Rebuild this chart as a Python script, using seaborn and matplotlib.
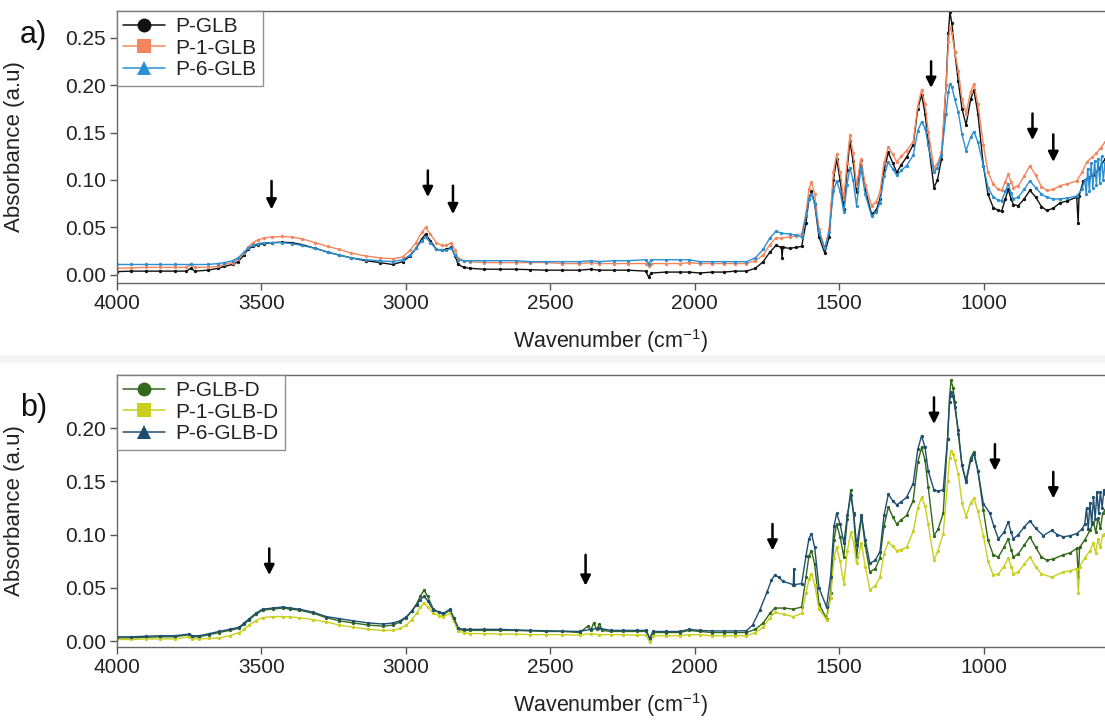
import numpy as np
import pandas as pd
import matplotlib
matplotlib.use("Agg")
import matplotlib.pyplot as plt
from matplotlib.lines import Line2D
from matplotlib.patches import Rectangle
import seaborn as sns

# ---------------- data ----------------
series_a = ["P-GLB", "P-1-GLB", "P-6-GLB"]
series_b = ["P-GLB-D", "P-1-GLB-D", "P-6-GLB-D"]
colors_a = ["#111111", "#f4855c", "#2b8fd2"]
colors_b = ["#33691a", "#c9cf1e", "#1f4f70"]
markers = ["o", "s", "^"]

# (wavenumber cm-1, absorbance)
a_black = [(4000,0.0035),(3950,0.004),(3900,0.004),(3850,0.004),(3800,0.004),(3760,0.004),(3744,0.007),(3730,0.004),(3686,0.005),(3650,0.007),(3628,0.009),(3600,0.011),(3581,0.014),(3560,0.021),(3547,0.027),(3530,0.030),(3512,0.032),(3490,0.033),(3465,0.034),(3430,0.0345),(3395,0.034),(3360,0.032),(3314,0.028),(3270,0.024),(3232,0.021),(3190,0.018),(3139,0.015),(3090,0.013),(3046,0.011),(3011,0.014),(2985,0.020),(2965,0.028),(2945,0.038),(2932,0.043),(2915,0.036),(2895,0.027),(2875,0.026),(2860,0.027),(2843,0.029),(2830,0.020),(2819,0.011),(2800,0.008),(2779,0.007),(2730,0.006),(2674,0.006),(2620,0.006),(2570,0.0055),(2515,0.005),(2460,0.005),(2400,0.005),(2360,0.006),(2330,0.005),(2280,0.005),(2230,0.005),(2170,0.004),(2160,-0.002),(2150,0.002),(2100,0.003),(2052,0.003),(2020,0.003),(1983,0.002),(1940,0.003),(1900,0.003),(1860,0.004),(1821,0.004),(1790,0.007),(1763,0.014),(1740,0.024),(1719,0.031),(1700,0.029),(1698,0.018),(1695,0.029),(1671,0.028),(1650,0.029),(1630,0.030),(1615,0.055),(1605,0.080),(1596,0.088),(1585,0.075),(1570,0.040),(1550,0.023),(1535,0.040),(1520,0.100),(1509,0.122),(1497,0.100),(1484,0.069),(1473,0.110),(1463,0.141),(1452,0.120),(1440,0.087),(1425,0.121),(1410,0.090),(1388,0.064),(1372,0.068),(1359,0.080),(1345,0.110),(1330,0.129),(1315,0.118),(1301,0.108),(1285,0.116),(1267,0.124),(1244,0.137),(1228,0.175),(1215,0.190),(1203,0.170),(1192,0.140),(1172,0.092),(1160,0.100),(1146,0.122),(1130,0.200),(1122,0.255),(1117,0.277),(1110,0.265),(1100,0.235),(1088,0.204),(1075,0.175),(1061,0.158),(1045,0.185),(1034,0.195),(1020,0.170),(1001,0.115),(985,0.085),(967,0.071),(950,0.068),(938,0.067),(925,0.080),(915,0.090),(905,0.080),(897,0.074),(880,0.073),(860,0.080),(840,0.089),(820,0.082),(800,0.072),(782,0.068),(760,0.070),(736,0.076),(710,0.078),(678,0.082),(673,0.055),(670,0.083),(655,0.099),(640,0.102),(620,0.105),(600,0.112),(580,0.122)]

a_orange = [(4000,0.007),(3950,0.0075),(3900,0.008),(3850,0.008),(3800,0.008),(3760,0.008),(3744,0.011),(3730,0.008),(3686,0.008),(3650,0.009),(3628,0.011),(3600,0.013),(3581,0.017),(3560,0.023),(3547,0.029),(3530,0.034),(3512,0.037),(3490,0.039),(3465,0.040),(3430,0.0405),(3395,0.040),(3360,0.038),(3314,0.034),(3270,0.030),(3232,0.027),(3190,0.023),(3139,0.020),(3090,0.018),(3046,0.017),(3011,0.019),(2985,0.026),(2965,0.034),(2945,0.045),(2932,0.050),(2915,0.043),(2895,0.034),(2875,0.031),(2860,0.031),(2843,0.034),(2830,0.026),(2819,0.018),(2800,0.015),(2779,0.014),(2730,0.013),(2674,0.013),(2620,0.013),(2570,0.013),(2515,0.013),(2460,0.012),(2400,0.012),(2360,0.013),(2330,0.012),(2280,0.012),(2230,0.012),(2170,0.012),(2160,0.009),(2150,0.012),(2100,0.012),(2052,0.012),(2020,0.013),(1983,0.012),(1940,0.012),(1900,0.012),(1860,0.012),(1821,0.012),(1790,0.015),(1763,0.021),(1740,0.032),(1719,0.039),(1700,0.039),(1671,0.040),(1650,0.041),(1630,0.043),(1615,0.065),(1605,0.090),(1596,0.098),(1585,0.085),(1570,0.048),(1550,0.028),(1535,0.048),(1520,0.108),(1509,0.127),(1497,0.108),(1484,0.080),(1473,0.118),(1463,0.147),(1452,0.128),(1440,0.094),(1425,0.122),(1410,0.095),(1388,0.073),(1372,0.077),(1359,0.087),(1345,0.118),(1330,0.135),(1315,0.127),(1301,0.119),(1285,0.125),(1267,0.131),(1244,0.140),(1228,0.178),(1215,0.195),(1203,0.180),(1192,0.151),(1172,0.113),(1160,0.117),(1146,0.129),(1130,0.200),(1122,0.245),(1117,0.261),(1110,0.255),(1100,0.235),(1088,0.215),(1075,0.185),(1061,0.170),(1045,0.193),(1034,0.201),(1020,0.180),(1001,0.137),(985,0.108),(967,0.096),(950,0.090),(938,0.089),(925,0.098),(915,0.106),(905,0.098),(897,0.092),(880,0.094),(860,0.104),(840,0.115),(820,0.105),(800,0.093),(782,0.089),(760,0.090),(736,0.094),(710,0.096),(678,0.099),(660,0.108),(643,0.119),(625,0.124),(610,0.128),(595,0.134),(580,0.140)]

a_blue = [(4000,0.011),(3950,0.011),(3900,0.011),(3850,0.011),(3800,0.011),(3744,0.011),(3686,0.011),(3650,0.012),(3628,0.013),(3600,0.015),(3581,0.018),(3560,0.024),(3547,0.028),(3530,0.031),(3512,0.033),(3490,0.034),(3465,0.034),(3430,0.034),(3395,0.033),(3360,0.031),(3314,0.028),(3270,0.024),(3232,0.021),(3190,0.018),(3139,0.016),(3090,0.015),(3046,0.014),(3011,0.016),(2985,0.021),(2965,0.028),(2945,0.036),(2932,0.040),(2915,0.034),(2895,0.027),(2875,0.026),(2860,0.026),(2843,0.028),(2830,0.021),(2819,0.016),(2800,0.015),(2779,0.015),(2730,0.015),(2674,0.015),(2620,0.015),(2570,0.014),(2515,0.014),(2460,0.014),(2400,0.014),(2360,0.015),(2330,0.014),(2280,0.015),(2230,0.015),(2170,0.016),(2160,0.012),(2150,0.016),(2100,0.016),(2052,0.016),(2020,0.016),(1983,0.014),(1940,0.014),(1900,0.014),(1860,0.014),(1821,0.014),(1790,0.018),(1763,0.027),(1740,0.039),(1719,0.046),(1700,0.044),(1671,0.043),(1650,0.042),(1630,0.040),(1615,0.062),(1605,0.080),(1596,0.085),(1585,0.075),(1570,0.045),(1550,0.028),(1535,0.045),(1520,0.088),(1509,0.099),(1497,0.088),(1484,0.066),(1473,0.095),(1463,0.113),(1452,0.100),(1440,0.073),(1425,0.113),(1410,0.085),(1388,0.062),(1372,0.066),(1359,0.076),(1345,0.104),(1330,0.119),(1315,0.112),(1301,0.105),(1285,0.110),(1267,0.115),(1244,0.126),(1228,0.152),(1215,0.161),(1203,0.155),(1192,0.137),(1172,0.108),(1160,0.113),(1146,0.126),(1130,0.170),(1122,0.193),(1117,0.201),(1110,0.198),(1100,0.185),(1088,0.172),(1075,0.148),(1061,0.131),(1045,0.145),(1034,0.151),(1020,0.140),(1001,0.115),(985,0.092),(967,0.082),(950,0.079),(938,0.078),(925,0.088),(915,0.096),(905,0.086),(897,0.080),(880,0.082),(860,0.090),(840,0.099),(820,0.092),(800,0.085),(782,0.082),(760,0.080),(736,0.080),(710,0.081),(678,0.083),(660,0.090),(650,0.100),(645,0.085),(640,0.112),(634,0.088),(628,0.118),(622,0.092),(616,0.120),(610,0.095),(604,0.122),(598,0.097),(592,0.125),(586,0.100),(580,0.118)]

b_green = [(4000,0.003),(3950,0.003),(3900,0.0035),(3850,0.004),(3800,0.004),(3751,0.006),(3740,0.004),(3716,0.004),(3680,0.006),(3647,0.008),(3610,0.010),(3577,0.012),(3560,0.016),(3542,0.020),(3520,0.025),(3496,0.029),(3460,0.030),(3426,0.031),(3400,0.030),(3369,0.029),(3320,0.026),(3276,0.022),(3230,0.019),(3183,0.017),(3130,0.015),(3079,0.014),(3044,0.015),(3020,0.018),(2998,0.022),(2980,0.028),(2963,0.035),(2950,0.042),(2937,0.048),(2925,0.042),(2905,0.030),(2885,0.027),(2870,0.025),(2847,0.029),(2835,0.022),(2818,0.011),(2800,0.010),(2778,0.010),(2730,0.010),(2673,0.010),(2620,0.010),(2570,0.0095),(2515,0.009),(2460,0.009),(2399,0.008),(2370,0.014),(2360,0.010),(2350,0.017),(2340,0.011),(2330,0.016),(2320,0.010),(2290,0.009),(2249,0.009),(2200,0.009),(2168,0.009),(2156,0.002),(2145,0.008),(2100,0.008),(2052,0.008),(2020,0.010),(1983,0.009),(1940,0.008),(1900,0.008),(1860,0.008),(1821,0.008),(1790,0.011),(1763,0.017),(1740,0.026),(1723,0.031),(1690,0.031),(1659,0.030),(1630,0.032),(1615,0.060),(1605,0.080),(1596,0.085),(1585,0.072),(1570,0.035),(1544,0.021),(1530,0.045),(1518,0.095),(1509,0.110),(1497,0.098),(1484,0.079),(1472,0.115),(1460,0.142),(1450,0.118),(1440,0.079),(1423,0.117),(1410,0.090),(1394,0.065),(1375,0.068),(1359,0.078),(1345,0.108),(1330,0.126),(1315,0.117),(1301,0.110),(1285,0.114),(1267,0.118),(1244,0.132),(1228,0.168),(1215,0.182),(1203,0.170),(1192,0.145),(1172,0.099),(1158,0.105),(1140,0.120),(1125,0.190),(1118,0.230),(1113,0.245),(1106,0.238),(1100,0.225),(1088,0.195),(1075,0.165),(1061,0.151),(1045,0.172),(1034,0.178),(1020,0.160),(1001,0.123),(985,0.095),(967,0.081),(949,0.079),(930,0.088),(915,0.096),(905,0.086),(897,0.079),(880,0.082),(860,0.090),(840,0.098),(820,0.088),(800,0.079),(782,0.076),(760,0.077),(724,0.081),(700,0.083),(678,0.087),(672,0.060),(668,0.088),(650,0.095),(632,0.104),(620,0.112),(612,0.102),(604,0.116),(596,0.106),(588,0.120),(580,0.123)]

b_yellow = [(4000,0.0015),(3950,0.0015),(3900,0.002),(3850,0.002),(3800,0.002),(3751,0.004),(3740,0.002),(3716,0.002),(3680,0.0025),(3647,0.003),(3610,0.005),(3577,0.008),(3560,0.011),(3542,0.015),(3520,0.019),(3496,0.022),(3460,0.023),(3426,0.023),(3400,0.0225),(3369,0.022),(3320,0.020),(3276,0.018),(3230,0.015),(3183,0.013),(3130,0.011),(3079,0.010),(3044,0.010),(3020,0.012),(2998,0.015),(2980,0.020),(2963,0.026),(2950,0.032),(2937,0.036),(2925,0.032),(2905,0.026),(2885,0.024),(2870,0.023),(2847,0.026),(2835,0.019),(2818,0.009),(2800,0.008),(2778,0.007),(2730,0.007),(2673,0.0065),(2620,0.0065),(2570,0.006),(2515,0.006),(2460,0.006),(2399,0.0055),(2360,0.007),(2330,0.006),(2290,0.006),(2249,0.006),(2200,0.0055),(2168,0.0055),(2156,-0.001),(2145,0.005),(2100,0.005),(2052,0.005),(2020,0.006),(1983,0.006),(1940,0.005),(1900,0.005),(1860,0.005),(1821,0.005),(1790,0.008),(1763,0.013),(1740,0.022),(1723,0.027),(1690,0.025),(1659,0.023),(1630,0.026),(1615,0.045),(1605,0.058),(1596,0.063),(1585,0.053),(1570,0.030),(1544,0.020),(1530,0.040),(1518,0.078),(1509,0.088),(1497,0.075),(1484,0.054),(1472,0.085),(1460,0.102),(1450,0.092),(1440,0.073),(1423,0.092),(1410,0.070),(1394,0.048),(1375,0.052),(1359,0.060),(1345,0.082),(1330,0.093),(1315,0.089),(1301,0.085),(1285,0.086),(1267,0.088),(1244,0.103),(1228,0.125),(1215,0.135),(1203,0.127),(1192,0.110),(1172,0.076),(1158,0.085),(1140,0.101),(1125,0.150),(1118,0.172),(1113,0.179),(1106,0.176),(1100,0.170),(1088,0.157),(1075,0.130),(1061,0.117),(1045,0.130),(1034,0.134),(1020,0.122),(1001,0.099),(985,0.075),(967,0.062),(949,0.063),(930,0.070),(915,0.078),(905,0.070),(897,0.063),(880,0.065),(860,0.072),(840,0.079),(820,0.070),(800,0.063),(764,0.060),(724,0.065),(700,0.066),(678,0.068),(672,0.045),(668,0.070),(650,0.078),(632,0.085),(620,0.092),(612,0.083),(604,0.096),(596,0.088),(588,0.100),(580,0.101)]

b_blue = [(4000,0.004),(3950,0.004),(3900,0.0045),(3850,0.005),(3800,0.005),(3751,0.0065),(3740,0.005),(3716,0.005),(3680,0.007),(3647,0.009),(3610,0.011),(3577,0.013),(3560,0.017),(3542,0.021),(3520,0.026),(3496,0.030),(3460,0.031),(3426,0.032),(3400,0.031),(3369,0.030),(3320,0.027),(3276,0.023),(3230,0.021),(3183,0.019),(3130,0.017),(3079,0.016),(3044,0.017),(3020,0.019),(2998,0.023),(2980,0.028),(2963,0.034),(2950,0.039),(2937,0.042),(2925,0.038),(2905,0.029),(2885,0.027),(2870,0.026),(2847,0.030),(2835,0.022),(2818,0.012),(2800,0.011),(2778,0.011),(2730,0.011),(2673,0.011),(2620,0.0105),(2570,0.010),(2515,0.0097),(2460,0.0095),(2399,0.009),(2360,0.011),(2330,0.012),(2290,0.010),(2249,0.010),(2200,0.010),(2168,0.010),(2156,0.0025),(2145,0.009),(2100,0.009),(2052,0.009),(2020,0.011),(1983,0.010),(1940,0.0095),(1900,0.0095),(1860,0.0095),(1821,0.0097),(1800,0.015),(1775,0.029),(1750,0.046),(1735,0.057),(1723,0.062),(1710,0.060),(1694,0.056),(1659,0.053),(1657,0.068),(1655,0.053),(1630,0.054),(1615,0.080),(1605,0.096),(1596,0.101),(1585,0.088),(1570,0.050),(1544,0.032),(1530,0.060),(1518,0.108),(1509,0.120),(1497,0.110),(1484,0.092),(1472,0.118),(1460,0.137),(1450,0.120),(1440,0.090),(1423,0.118),(1410,0.095),(1394,0.073),(1375,0.076),(1359,0.084),(1345,0.118),(1330,0.138),(1315,0.132),(1301,0.128),(1285,0.131),(1267,0.135),(1244,0.148),(1228,0.180),(1215,0.193),(1203,0.182),(1192,0.160),(1172,0.142),(1158,0.141),(1140,0.142),(1125,0.190),(1118,0.225),(1113,0.234),(1106,0.230),(1100,0.220),(1088,0.198),(1075,0.165),(1061,0.149),(1045,0.170),(1034,0.176),(1020,0.160),(1001,0.129),(978,0.120),(965,0.108),(949,0.096),(930,0.102),(915,0.112),(905,0.102),(897,0.096),(880,0.100),(860,0.107),(840,0.113),(820,0.106),(794,0.099),(764,0.104),(745,0.100),(724,0.098),(700,0.099),(678,0.101),(660,0.105),(650,0.110),(644,0.125),(638,0.105),(632,0.130),(626,0.110),(620,0.135),(614,0.115),(608,0.140),(602,0.120),(596,0.140),(590,0.125),(584,0.142),(580,0.138)]

# arrow annotations: wavenumber, tail value, tip value
arrows_a_wn = [3465, 2924, 2837, 1182, 831, 759]
arrows_a_tail = [0.099, 0.110, 0.094, 0.225, 0.170, 0.148]
arrows_a_tip = [0.069, 0.082, 0.064, 0.197, 0.142, 0.119]
arrows_b_wn = [3473, 2378, 1731, 1172, 961, 759]
arrows_b_tail = [0.087, 0.081, 0.110, 0.229, 0.185, 0.159]
arrows_b_tip = [0.062, 0.052, 0.085, 0.204, 0.160, 0.134]

xticks = [4000, 3500, 3000, 2500, 2000, 1500, 1000]
yticks_a = [0.00, 0.05, 0.10, 0.15, 0.20, 0.25]
yticks_b = [0.00, 0.05, 0.10, 0.15, 0.20]

# ---------------- plotting ----------------
sns.set_theme(style="white")
plt.rcParams["font.family"] = ["Liberation Sans", "DejaVu Sans"]
plt.rcParams["mathtext.fontset"] = "custom"
plt.rcParams["mathtext.rm"] = "Liberation Sans"
plt.rcParams["mathtext.it"] = "Liberation Sans"

fig = plt.figure(figsize=(11.05, 7.23), dpi=100)
W, H = 1105, 723
# faint separator band between the two stacked panels
fig.patches.append(Rectangle((0, 1 - 363 / H), 1, 8 / H, transform=fig.transFigure,
                             facecolor="#f4f4f4", edgecolor="none", zorder=-5))
ax_a = fig.add_axes([117 / W, 1 - 283 / H, (W - 117) / W, (283 - 11) / H])
ax_b = fig.add_axes([117 / W, 1 - 647 / H, (W - 117) / W, (647 - 375) / H])


def draw(ax, data, names, cols, ylim, yticks, arr_wn, arr_tail, arr_tip):
    for pts, name, c in zip(data, names, cols):
        df = pd.DataFrame(pts, columns=["wn", "abs"])
        sns.lineplot(data=df, x="wn", y="abs", ax=ax, color=c, linewidth=1.0, sort=False,
                     estimator=None, marker="o", markersize=2.4, markeredgewidth=0, legend=False)
    ax.set_xlim(4000, 580)
    ax.set_ylim(*ylim)
    ax.set_xticks(xticks)
    ax.set_xticklabels([str(t) for t in xticks])
    ax.set_yticks(yticks)
    ax.set_yticklabels([f"{t:.2f}" for t in yticks])
    ax.tick_params(axis="both", which="both", direction="out", length=5, width=1, color="#555555",
                   labelsize=15, pad=3, bottom=True, left=True, labelcolor="#222222")
    for side in ["left", "bottom", "top"]:
        ax.spines[side].set_color("#666666")
        ax.spines[side].set_linewidth(1.0)
    ax.spines["right"].set_visible(False)
    ax.set_xlabel("Wavenumber (cm$^{\\mathregular{-1}}$)", fontsize=15.5, labelpad=10, color="#222222")
    ax.set_ylabel("Absorbance (a.u)", fontsize=16, color="#222222")
    ax.yaxis.set_label_coords(-0.093, 0.5)
    for w, t0, t1 in zip(arr_wn, arr_tail, arr_tip):
        ax.annotate("", xy=(w, t1), xytext=(w, t0),
                    arrowprops=dict(arrowstyle="-|>", color="black", lw=1.8, mutation_scale=15,
                                    shrinkA=0, shrinkB=0))
    handles = [Line2D([0], [0], color=c, lw=1.1, marker=m, markersize=10, markeredgewidth=0)
               for c, m in zip(cols, markers)]
    leg = ax.legend(handles, names, loc="upper left", bbox_to_anchor=(0.0, 1.0), borderaxespad=0.0,
                    frameon=True, fancybox=False, fontsize=15, handlelength=2.0, handletextpad=0.5,
                    labelspacing=0.12, borderpad=0.3)
    leg.get_frame().set_edgecolor("#777777")
    leg.get_frame().set_linewidth(1.0)
    for t in leg.get_texts():
        t.set_color("#222222")


draw(ax_a, [a_black, a_orange, a_blue], series_a, colors_a, (-0.0085, 0.278), yticks_a,
     arrows_a_wn, arrows_a_tail, arrows_a_tip)
draw(ax_b, [b_green, b_yellow, b_blue], series_b, colors_b, (-0.0056, 0.25), yticks_b,
     arrows_b_wn, arrows_b_tail, arrows_b_tip)

fig.text(20 / W, 1 - 35 / H, "a)", fontsize=22, ha="left", va="center", color="#111111")
fig.text(20 / W, 1 - 408 / H, "b)", fontsize=22, ha="left", va="center", color="#111111")

fig.savefig("out.png", dpi=100)
